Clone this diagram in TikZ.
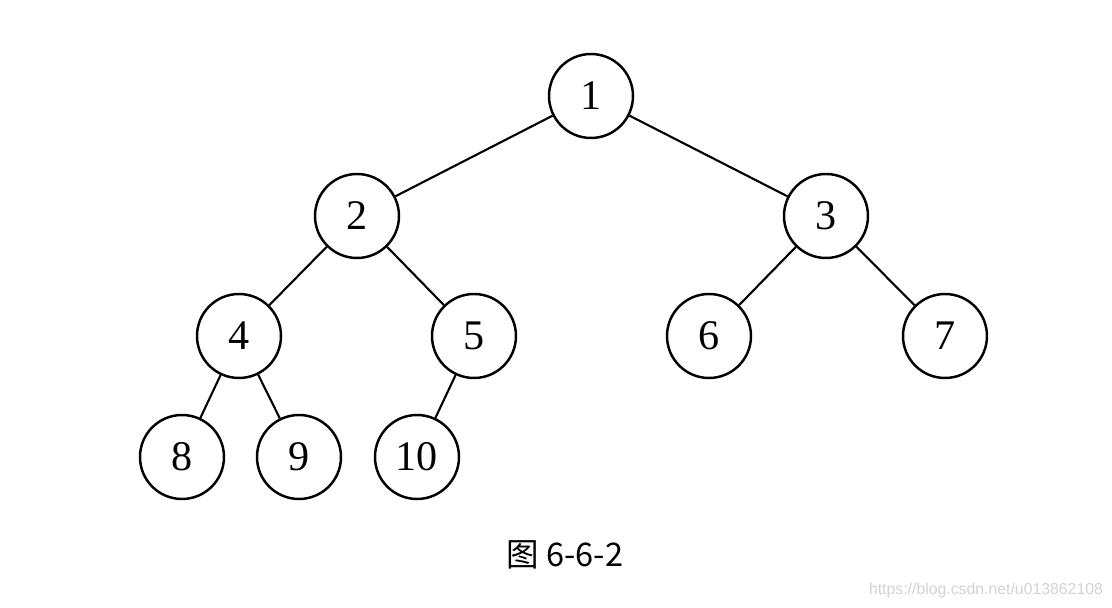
\documentclass[tikz,border=0pt]{standalone}
\usepackage{fontspec}
\setmainfont{Liberation Serif}
\newfontfamily\cjk{Noto Sans CJK SC}
\newfontfamily\webfont{Liberation Sans}
\usetikzlibrary{positioning}

\begin{document}
\begin{tikzpicture}[
    node distance=2.4cm and 4.7cm,
    on grid,
    treenode/.style={draw, circle, line width=1.4pt, minimum size=1.68cm, inner sep=0pt, font=\fontsize{24}{28}\selectfont},
    treeedge/.style={line width=1.2pt}
]
\useasboundingbox (-11.82,1.92) rectangle (10.42,-10.24);

% Nodes
\node[treenode] (n1) at (0,0) {1};
\node[treenode] (n2) [below left=2.4cm and 4.68cm of n1] {2};
\node[treenode] (n3) [below right=2.4cm and 4.7cm of n1] {3};
\node[treenode] (n4) [below left=2.4cm and 2.36cm of n2] {4};
\node[treenode] (n5) [below right=2.4cm and 2.34cm of n2] {5};
\node[treenode] (n6) [below left=2.4cm and 2.34cm of n3] {6};
\node[treenode] (n7) [below right=2.4cm and 2.38cm of n3] {7};
\node[treenode] (n8) [below left=2.42cm and 1.14cm of n4] {8};
\node[treenode] (n9) [below right=2.42cm and 1.2cm of n4] {9};
\node[treenode] (n10) [below left=2.42cm and 1.14cm of n5] {10};

% Edges
\draw[treeedge] (n1) -- (n2);
\draw[treeedge] (n1) -- (n3);
\draw[treeedge] (n2) -- (n4);
\draw[treeedge] (n2) -- (n5);
\draw[treeedge] (n3) -- (n6);
\draw[treeedge] (n3) -- (n7);
\draw[treeedge] (n4) -- (n8);
\draw[treeedge] (n4) -- (n9);
\draw[treeedge] (n5) -- (n10);

% Caption
\node (caption) at (-0.52,-9.18) {\cjk\fontsize{18.5}{22}\selectfont 图 6-6-2};
\node[text=gray!35] (mark) at (7.9,-9.88) {\webfont\fontsize{9}{11}\selectfont https://blog.csdn.net/u013862108};
\end{tikzpicture}
\end{document}
